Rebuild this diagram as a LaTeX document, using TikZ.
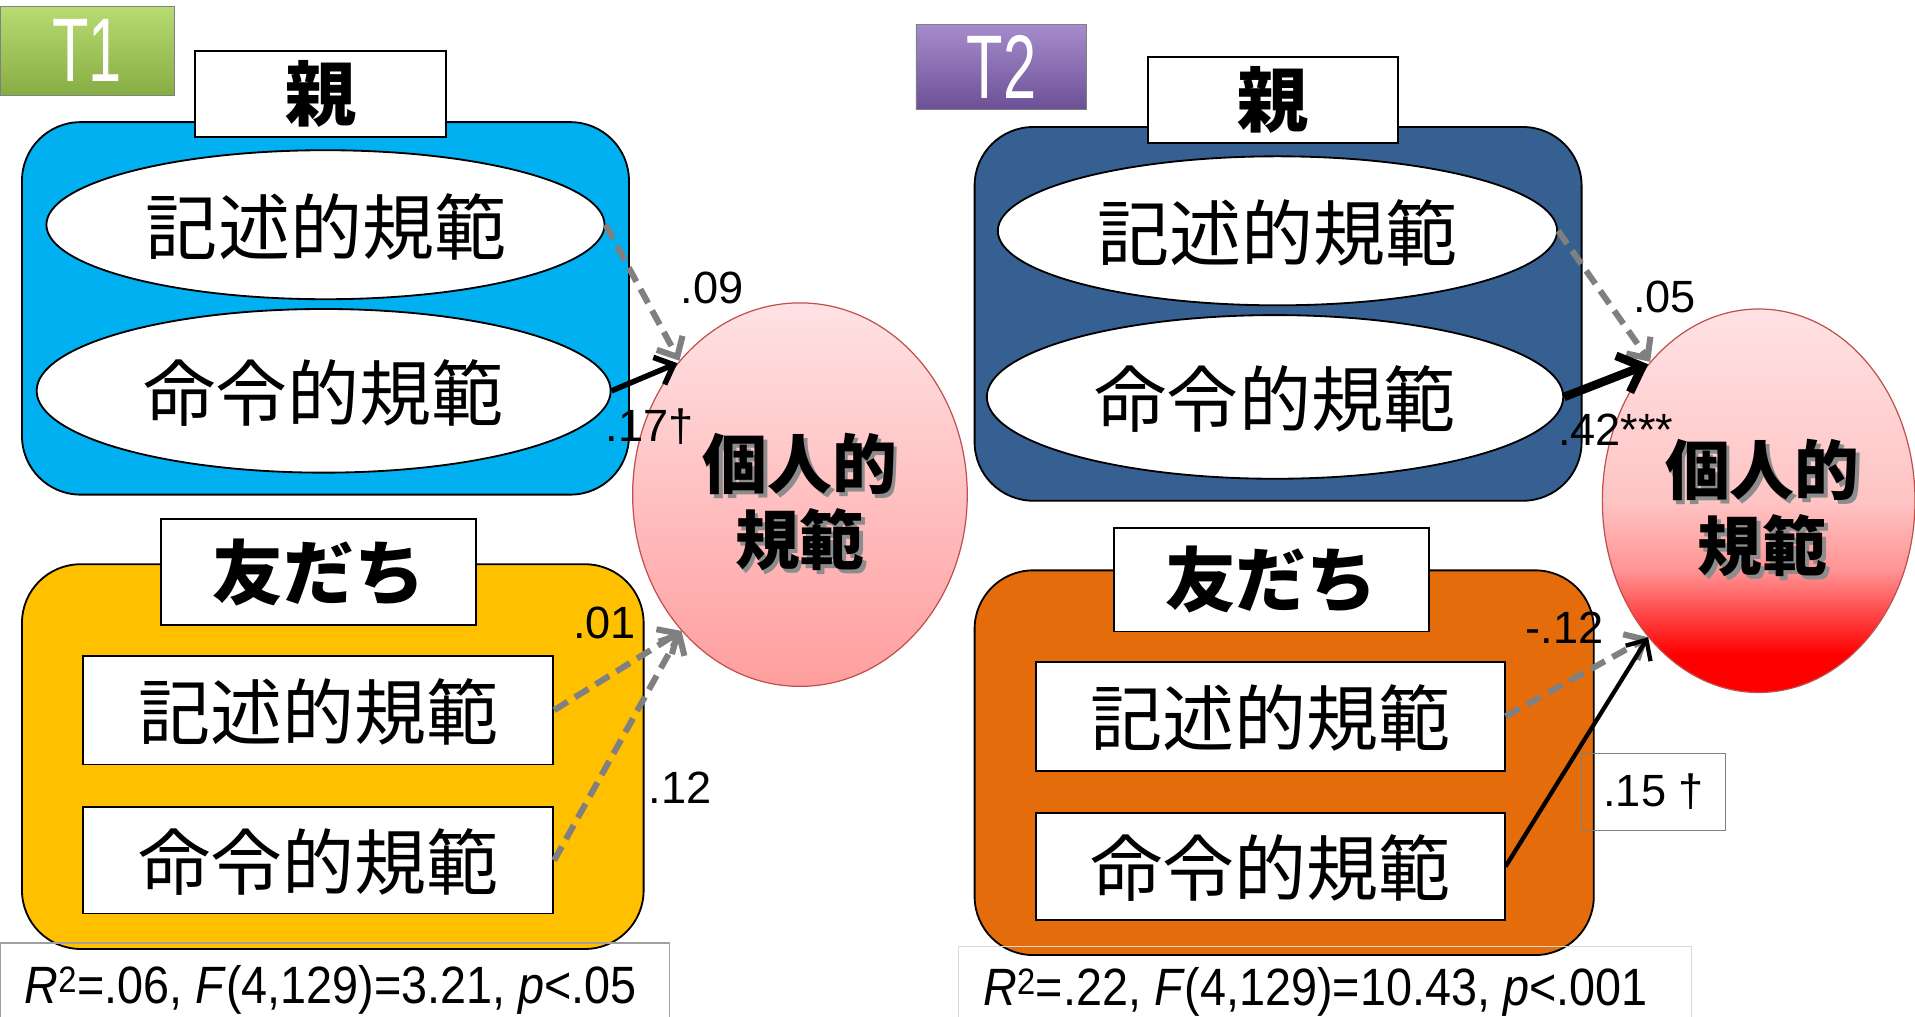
\documentclass[tikz,border=0pt]{standalone}
\usepackage{fontspec}
\setmainfont{Liberation Sans}
\newfontfamily\jp{Noto Sans CJK JP}
\usetikzlibrary{shapes.geometric,arrows.meta}
\definecolor{cyanbox}{HTML}{00B0F0}
\definecolor{yelbox}{HTML}{FFC000}
\definecolor{navybox}{HTML}{366092}
\definecolor{orgbox}{HTML}{E46C0A}
\definecolor{pinktop}{HTML}{FFE2E4}
\definecolor{pinkmid}{HTML}{FFC4C4}
\definecolor{pinkbot}{HTML}{FF9E9E}
\definecolor{pinkred}{HTML}{FF9494}
\definecolor{circbord}{HTML}{C0504D}
\definecolor{dashgray}{HTML}{808080}
\definecolor{greentop}{HTML}{B8DB72}
\definecolor{greenbot}{HTML}{86AD43}
\definecolor{purtop}{HTML}{A68CCC}
\definecolor{purbot}{HTML}{6C5096}
\definecolor{statgray}{HTML}{A0A0A0}
\definecolor{statlight}{HTML}{D9D9D9}
\pgfdeclareverticalshading{redgrad}{100bp}{color(0bp)=(red); color(30bp)=(red); color(41bp)=(pinkred); color(50bp)=(pinkmid); color(75bp)=(pinktop); color(100bp)=(pinktop)}
\begin{document}
\begin{tikzpicture}[x=1pt,y=-1pt,
  panelbox/.style={draw=black, line width=1.5pt, rounded corners=48pt, inner sep=0},
  labelbox/.style={draw=black, fill=white, line width=1.5pt, inner sep=0,
    font=\jp\bfseries\fontsize{58}{60}\selectfont},
  ellnode/.style={ellipse, draw=black, fill=white, line width=1.5pt, inner sep=0},
  rectnode/.style={draw=black, fill=white, line width=1.5pt, inner sep=0},
  cjk/.style={inner sep=0, font=\jp\fontsize{59}{62}\selectfont},
  circnode/.style={ellipse, draw=circbord, line width=1pt, inner sep=0},
  bigtext/.style={inner sep=0, align=center, font=\jp\bfseries\fontsize{53}{62}\selectfont},
  numlab/.style={inner sep=0, font=\fontsize{37}{40}\selectfont},
  tbox/.style={draw=black!50, line width=0.8pt, inner sep=0, text=white,
    font=\fontsize{74}{74}\selectfont},
  dasharrow/.style={draw=dashgray, line width=5pt, dash pattern=on 13pt off 7pt,
    -{Straight Barb[length=13pt,width=24pt]}},
  solidarrow/.style={draw=black, line width=4.5pt, -{Straight Barb[length=13pt,width=24pt]}},
  statbox/.style={line width=1.2pt, fill=none},
  stattext/.style={inner sep=0, anchor=base west, font=\fontsize{43}{46}\selectfont}
]
\useasboundingbox (0,0) rectangle (1568,832);

% ---------------- T1 ----------------
\node[tbox, top color=greentop, bottom color=greenbot, minimum width=143, minimum height=73] (t1) at (71.5,41.5) {\scalebox{0.66}[1]{T1}};

\node[panelbox, fill=cyanbox, minimum width=497, minimum height=305] (p1) at (266.5,252.5) {};
\node[panelbox, fill=yelbox, minimum width=509, minimum height=315] (p2) at (272.5,619.5) {};

\node[labelbox, minimum width=205, minimum height=70] (oya1) at (262.5,77) {親};
\node[labelbox, minimum width=258, minimum height=87] (tomo1) at (261,468.5) {友だち};

\node[ellnode, minimum width=457, minimum height=122] (e1) at (266.5,184) {};
\node[cjk] (e1t) at (267,186) {記述的規範};
\node[ellnode, minimum width=470, minimum height=134] (e2) at (265,320) {};
\node[cjk] (e2t) at (265,322) {命令的規範};

\node[rectnode, minimum width=385, minimum height=89] (r1) at (260.5,581.5) {};
\node[cjk] (r1t) at (261,583) {記述的規範};
\node[rectnode, minimum width=385, minimum height=87] (r2) at (260.5,704.5) {};
\node[cjk] (r2t) at (261,706) {命令的規範};

\node[circnode, top color=pinktop, bottom color=pinkbot, minimum width=274, minimum height=314] (c1) at (655,405) {};
\node[bigtext, text=black!45] (c1s) at (658,414) {個人的\\規範};
\node[bigtext] (c1t) at (655,411) {個人的\\規範};

\draw[dasharrow] (e1.east) -- (c1.132);
\draw[solidarrow] (e2.east) -- (c1.133);
\draw[dasharrow] (r1.east) -- (c1.229);
\draw[dasharrow] (r2.east) -- (c1.229);

\node[numlab] (l09) at (583,236) {.09};
\node[numlab] (l17) at (532,349) {.17†};
\node[numlab] (l01) at (495,510) {.01};
\node[numlab] (l12) at (557,645) {.12};

\draw[statbox, draw=statgray] (0,772) rectangle (548,870);
\node[stattext] (st1) at (20,822) {\scalebox{0.89}[1]{\textit{R}\textsuperscript{2}=.06, \textit{F}(4,129)=3.21, \textit{p}<.05}};

% ---------------- T2 ----------------
\node[tbox, top color=purtop, bottom color=purbot, minimum width=140, minimum height=70] (t2) at (820,55) {\scalebox{0.66}[1]{T2}};

\node[panelbox, fill=navybox, minimum width=497, minimum height=306] (p3) at (1046.5,257) {};
\node[panelbox, fill=orgbox, minimum width=507, minimum height=315] (p4) at (1051.5,624.5) {};

\node[labelbox, minimum width=205, minimum height=70] (oya2) at (1042.5,82) {親};
\node[labelbox, minimum width=258, minimum height=85] (tomo2) at (1041,474.5) {友だち};

\node[ellnode, minimum width=458, minimum height=122] (e3) at (1046,189) {};
\node[cjk] (e3t) at (1046,191) {記述的規範};
\node[ellnode, minimum width=472, minimum height=134] (e4) at (1044,325) {};
\node[cjk] (e4t) at (1044,327) {命令的規範};

\node[rectnode, minimum width=384, minimum height=89] (r3) at (1040,586.5) {};
\node[cjk] (r3t) at (1040,588) {記述的規範};
\node[rectnode, minimum width=384, minimum height=87] (r4) at (1040,709.5) {};
\node[cjk] (r4t) at (1040,711) {命令的規範};

\node[circnode, shading=redgrad, minimum width=256, minimum height=314] (c2) at (1440,410) {};
\node[bigtext, text=black!45] (c2s) at (1446,419) {個人的\\規範};
\node[bigtext] (c2t) at (1443,416) {個人的\\規範};

\draw[dasharrow] (e3.east) -- (c2.128);
\draw[solidarrow, line width=7pt, -{Straight Barb[length=17pt,width=32pt]}] (e4.east) -- (c2.129);
\draw[dasharrow] (r3.east) -- (c2.231);
\draw[solidarrow, line width=3.5pt] (r4.east) -- (c2.231);

\node[numlab] (l05) at (1363,243) {.05};
\node[numlab] (l42) at (1323,352) {.42***};
\node[numlab] (lm12) at (1281,514) {-.12};
\node[numlab, draw=dashgray, line width=1pt, minimum width=118, minimum height=63] (l15) at (1354,648.5) {.15 †};

\draw[statbox, draw=statlight] (785,775) rectangle (1385,870);
\node[stattext] (st2) at (805,823) {\scalebox{0.89}[1]{\textit{R}\textsuperscript{2}=.22, \textit{F}(4,129)=10.43, \textit{p}<.001}};
\end{tikzpicture}
\end{document}
